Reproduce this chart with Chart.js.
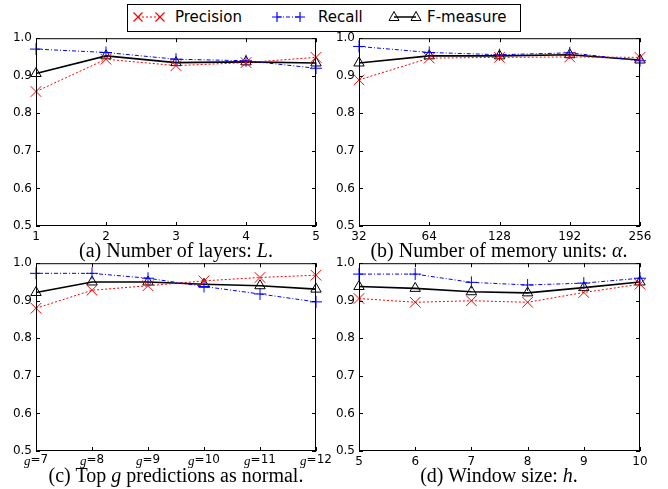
<!DOCTYPE html>
<html>
<head>
<meta charset="utf-8">
<script src="https://cdn.jsdelivr.net/npm/chart.js@4.4.0/dist/chart.umd.min.js"></script>
<style>
    body { margin: 0; width: 668px; height: 489px; position: relative; background: #fff; overflow: hidden; }
    canvas { position: absolute; }
    .cap { position: absolute; font-family: "Liberation Serif", serif; font-size: 20px; white-space: nowrap; transform: translate(-50%, -50%); color: #000; }
    #legend { position: absolute; left: 0; top: 0; z-index: 5; }
</style>
</head>
<body>
<svg id="legend" width="668" height="36">
    <rect x="127.5" y="4.5" width="393" height="27" fill="#fff" stroke="#000" stroke-width="1"/>
    <line x1="138" y1="17" x2="160" y2="17" stroke="red" stroke-width="1" stroke-dasharray="2,2"/>
    <path d="M133.5 12.5L142.5 21.5M133.5 21.5L142.5 12.5M155.5 12.5L164.5 21.5M155.5 21.5L164.5 12.5" stroke="red" stroke-width="1.2"/>
    <text x="175" y="22" font-family="DejaVu Sans" font-size="15">Precision</text>
    <line x1="277" y1="17" x2="300" y2="17" stroke="blue" stroke-width="1" stroke-dasharray="4,2,1,2"/>
    <path d="M272 17H282M277 12V22M295 17H305M300 12V22" stroke="blue" stroke-width="1.2"/>
    <text x="318" y="22" font-family="DejaVu Sans" font-size="15">Recall</text>
    <line x1="394" y1="17" x2="416" y2="17" stroke="#000" stroke-width="1.5"/>
    <path d="M394 11.5L399 20.5H389Z M416 11.5L421 20.5H411Z" fill="none" stroke="#000" stroke-width="1"/>
    <text x="427" y="22" font-family="DejaVu Sans" font-size="15">F-measure</text>
</svg>

<canvas id="chartA"></canvas>
<canvas id="chartB"></canvas>
<canvas id="chartC"></canvas>
<canvas id="chartD"></canvas>

<div class="cap" style="left:176px;top:250px">(a) Number of layers: <i>L</i>.</div>
<div class="cap" style="left:499px;top:250px">(b) Number of memory units: <i>α</i>.</div>
<div class="cap" style="left:176px;top:475px">(c) Top <i>g</i> predictions as normal.</div>
<div class="cap" style="left:499px;top:475px">(d) Window size: <i>h</i>.</div>

<script>
// Data
const layerLabels = ["1", "2", "3", "4", "5"];
const layerPrecision = [0.858, 0.944, 0.927, 0.935, 0.949];
const layerRecall = [0.971, 0.962, 0.944, 0.940, 0.920];
const layerFmeasure = [0.906, 0.953, 0.935, 0.937, 0.934];

const memoryLabels = ["32", "64", "128", "192", "256"];
const memoryPrecision = [0.889, 0.947, 0.949, 0.950, 0.949];
const memoryRecall = [0.978, 0.962, 0.956, 0.961, 0.940];
const memoryFmeasure = [0.934, 0.953, 0.953, 0.956, 0.942];

const topgLabels = ["7", "8", "9", "10", "11", "12"];
const topgPrecision = [0.880, 0.928, 0.940, 0.953, 0.962, 0.968];
const topgRecall = [0.973, 0.973, 0.960, 0.938, 0.918, 0.897];
const topgFmeasure = [0.922, 0.950, 0.950, 0.944, 0.940, 0.931];

const windowLabels = ["5", "6", "7", "8", "9", "10"];
const windowPrecision = [0.906, 0.896, 0.900, 0.896, 0.922, 0.944];
const windowRecall = [0.971, 0.971, 0.949, 0.942, 0.947, 0.960];
const windowFmeasure = [0.938, 0.933, 0.924, 0.921, 0.935, 0.950];

const yMin = 0.5;
const yMax = 1.0;
const yStep = 0.1;

// matplotlib-like box with inward ticks on all four sides
const mplFrame = {
    id: "mplFrame",
    afterDraw(chart, args, opts) {
        const ctx = chart.ctx;
        const a = chart.chartArea;
        const x = chart.scales.x;
        const y = chart.scales.y;
        ctx.save();
        ctx.strokeStyle = "#000";
        ctx.lineWidth = 1;
        ctx.strokeRect(a.left + 0.5, a.top + 0.5, a.right - a.left - 1, a.bottom - a.top - 1);
        ctx.beginPath();
        x.ticks.forEach((t, i) => {
            const px = Math.round(x.getPixelForTick(i)) + 0.5;
            ctx.moveTo(px, a.bottom); ctx.lineTo(px, a.bottom - 4);
            ctx.moveTo(px, a.top); ctx.lineTo(px, a.top + 4);
        });
        y.ticks.forEach((t, i) => {
            const py = Math.round(y.getPixelForTick(i)) + 0.5;
            ctx.moveTo(a.left, py); ctx.lineTo(a.left + 4, py);
            ctx.moveTo(a.right, py); ctx.lineTo(a.right - 4, py);
        });
        ctx.stroke();
        // "g=7" style labels with an italic g
        if (opts.prefix) {
            ctx.fillStyle = "#000";
            ctx.textBaseline = "top";
            x.ticks.forEach((t, i) => {
                const px = x.getPixelForTick(i);
                const rest = "=" + x.getLabelForValue(t.value);
                ctx.font = "italic 13px 'Liberation Serif'";
                const w1 = ctx.measureText(opts.prefix).width;
                ctx.font = "12px 'DejaVu Sans'";
                const w2 = ctx.measureText(rest).width;
                const x0 = px - (w1 + w2) / 2;
                ctx.font = "italic 13px 'Liberation Serif'";
                ctx.fillText(opts.prefix, x0, a.bottom + 4);
                ctx.font = "12px 'DejaVu Sans'";
                ctx.fillText(rest, x0 + w1, a.bottom + 3);
            });
        }
        ctx.restore();
    }
};

function makeChart(id, box, labels, precision, recall, fmeasure, prefix) {
    const canvas = document.getElementById(id);
    const padTop = 10, padRight = 26, yAxisW = 40, xAxisH = 20;
    canvas.width = (box.r - box.l) + yAxisW + padRight;
    canvas.height = (box.b - box.t) + padTop + xAxisH;
    canvas.style.left = (box.l - yAxisW) + "px";
    canvas.style.top = (box.t - padTop) + "px";

    return new Chart(canvas, {
        type: "line",
        data: {
            labels: labels,
            datasets: [
                {
                    label: "Precision",
                    data: precision,
                    borderColor: "red",
                    borderWidth: 1,
                    borderDash: [2, 2],
                    pointStyle: "crossRot",
                    pointRadius: 7.5,
                    pointBorderColor: "red",
                    pointBorderWidth: 1,
                    backgroundColor: "rgba(0,0,0,0)",
                    tension: 0
                },
                {
                    label: "Recall",
                    data: recall,
                    borderColor: "blue",
                    borderWidth: 1,
                    borderDash: [4, 2, 1, 2],
                    pointStyle: "cross",
                    pointRadius: 6,
                    pointBorderColor: "blue",
                    pointBorderWidth: 1,
                    backgroundColor: "rgba(0,0,0,0)",
                    tension: 0
                },
                {
                    label: "F-measure",
                    data: fmeasure,
                    borderColor: "#000",
                    borderWidth: 1.6,
                    pointStyle: "triangle",
                    pointRadius: 6,
                    pointBorderColor: "#000",
                    pointBorderWidth: 1,
                    pointBackgroundColor: "rgba(0,0,0,0)",
                    backgroundColor: "rgba(0,0,0,0)",
                    tension: 0
                }
            ]
        },
        options: {
            responsive: false,
            animation: false,
            devicePixelRatio: 1,
            layout: { padding: { left: 0, top: padTop, right: padRight, bottom: 0 } },
            plugins: {
                legend: { display: false },
                tooltip: { enabled: false },
                mplFrame: { prefix: prefix || null }
            },
            scales: {
                x: {
                    type: "category",
                    offset: false,
                    grid: { display: false, drawTicks: false },
                    border: { display: false },
                    ticks: {
                        padding: 4,
                        autoSkip: false,
                        maxRotation: 0,
                        color: prefix ? "rgba(0,0,0,0)" : "#000",
                        font: { family: "DejaVu Sans", size: 12 }
                    },
                    afterFit: s => { s.height = xAxisH; }
                },
                y: {
                    min: yMin,
                    max: yMax,
                    grid: { display: false, drawTicks: false },
                    border: { display: false },
                    ticks: {
                        stepSize: yStep,
                        padding: 4,
                        color: "#000",
                        font: { family: "DejaVu Sans", size: 12 },
                        callback: v => v.toFixed(1)
                    },
                    afterFit: s => { s.width = yAxisW; }
                }
            }
        },
        plugins: [mplFrame]
    });
}

makeChart("chartA", { l: 36, t: 37, r: 316, b: 226 }, layerLabels, layerPrecision, layerRecall, layerFmeasure);
makeChart("chartB", { l: 359, t: 37, r: 640, b: 226 }, memoryLabels, memoryPrecision, memoryRecall, memoryFmeasure);
makeChart("chartC", { l: 36, t: 262, r: 316, b: 451 }, topgLabels, topgPrecision, topgRecall, topgFmeasure, "g");
makeChart("chartD", { l: 359, t: 262, r: 640, b: 451 }, windowLabels, windowPrecision, windowRecall, windowFmeasure);
</script>
</body>
</html>
